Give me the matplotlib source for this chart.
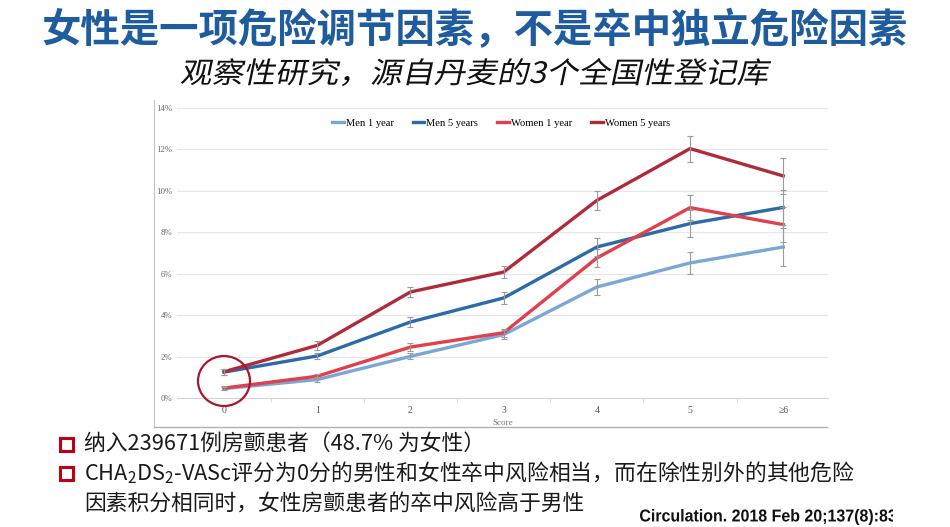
import numpy as np
import matplotlib
matplotlib.use('Agg')
import matplotlib.pyplot as plt
from matplotlib.font_manager import FontProperties
from matplotlib.textpath import TextPath
from matplotlib.patches import PathPatch, Ellipse, Rectangle
from matplotlib.transforms import Affine2D
from matplotlib.lines import Line2D

plt.rcParams['font.family'] = ['Noto Sans CJK SC', 'DejaVu Sans']
plt.rcParams['mathtext.fontset'] = 'custom'
plt.rcParams['mathtext.rm'] = 'Noto Sans CJK SC'

# data (stroke risk, %)
scores = ['0', '1', '2', '3', '4', '5', '≥6']
men_1y = [0.45, 0.89, 2.01, 3.06, 5.36, 6.52, 7.29]
men_5y = [1.25, 2.03, 3.67, 4.83, 7.29, 8.42, 9.20]
women_1y = [0.48, 1.05, 2.46, 3.15, 6.76, 9.19, 8.37]
women_5y = [1.27, 2.54, 5.12, 6.08, 9.54, 12.04, 10.72]
men_1y_err = [0.08, 0.10, 0.15, 0.20, 0.40, 0.55, 0.90]
men_5y_err = [0.15, 0.15, 0.25, 0.30, 0.45, 0.65, 0.85]
women_1y_err = [0.10, 0.13, 0.20, 0.20, 0.43, 0.60, 0.85]
women_5y_err = [0.15, 0.20, 0.25, 0.30, 0.45, 0.63, 0.85]
yticks = [0, 2, 4, 6, 8, 10, 12, 14]

W, H = 950, 527
fig = plt.figure(figsize=(9.5, 5.27), dpi=100)
px = Affine2D().scale(1 / W, 1 / H) + fig.transFigure


def path_text(s, prop, x0, x1, y0, y1, skew=0):
    # draw text as outlines, fitted into the ink box x0..x1 / y0..y1 (pixels from top)
    tp = TextPath((0, 0), s, size=20, prop=prop)
    bb = tp.get_extents()
    tr = Affine2D().translate(-bb.x0, -bb.y0) \
        .scale((x1 - x0) / bb.width, (y1 - y0) / bb.height) \
        .skew_deg(skew, 0).translate(x0, H - y1)
    return tr.transform_path(tp)


# title
fig.text(0.5, 1 - 31 / H, '女性是一项危险调节因素，不是卒中独立危险因素',
         ha='center', va='center', fontsize=28.4, fontweight='bold', color='#1f5c9e')

# italic subtitle (CJK font has no italic, so skew the glyph outlines)
sub = '观察性研究，源自丹麦的3个全国性登记库'
p = path_text(sub, FontProperties(family='Noto Sans CJK SC'), 180, 766, 58, 86, skew=12)
fig.add_artist(PathPatch(p, transform=px, color='#111111', lw=0))

# chart
x = np.arange(len(scores))
ax = fig.add_axes([177 / W, 1 - 398 / H, (828 - 177) / W, (398 - 108) / H])
series = [
    (men_1y, men_1y_err, '#7ba7d7', 'Men 1 year'),
    (men_5y, men_5y_err, '#2d6aa8', 'Men 5 years'),
    (women_1y, women_1y_err, '#e0404c', 'Women 1 year'),
    (women_5y, women_5y_err, '#b12a3a', 'Women 5 years'),
]
for vals, err, col, lab in series:
    ax.plot(x, vals, color=col, lw=2.4, label=lab, zorder=3, solid_joinstyle='round')
    ax.errorbar(x, vals, yerr=err, fmt='none', ecolor='#9a9a9a', elinewidth=0.8,
                capsize=2, capthick=0.8, zorder=4)

ax.set_xlim(-0.505, 6.48)
ax.set_ylim(0, 14)
ax.set_yticks(yticks)
ax.set_yticklabels([f'{v}%' for v in yticks], fontsize=6.3, color='#666666',
                   family='Liberation Serif')
ax.set_xticks(x)
ax.set_xticklabels(scores, fontsize=7, color='#555555', family='Liberation Serif')
ax.set_xticks(np.arange(0.5, 6, 1), minor=True)
ax.tick_params(axis='x', which='major', length=0, pad=6)
ax.tick_params(axis='y', length=0, pad=3.5)
ax.tick_params(axis='x', which='minor', length=3, color='#d5d5d5', direction='out')
ax.grid(axis='y', color='#e6e6e6', lw=0.8)
ax.set_axisbelow(True)
for s in ['top', 'right', 'left']:
    ax.spines[s].set_visible(False)
ax.spines['bottom'].set_color('#d5d5d5')
ax.spines['bottom'].set_linewidth(0.8)

ax.legend(loc='center', bbox_to_anchor=(501 / W, 1 - 123 / H), bbox_transform=fig.transFigure,
          ncol=4, frameon=False, handlelength=1.1, handletextpad=0.2, columnspacing=1.8,
          prop=FontProperties(family='Liberation Serif', size=7.6))

# red circle around score 0
fig.add_artist(Ellipse((224, H - 381), 52, 50, transform=px, fill=False,
                       edgecolor='#a8182a', lw=1.6))

# embedded image frame + cut axis title
fig.add_artist(Line2D([154, 154], [H - 100, H - 427], transform=px, color='#c4c4c4', lw=0.8))
fig.add_artist(Line2D([154, 827], [H - 427, H - 427], transform=px, color='#b0b0b0', lw=1.0))
fig.text(503 / W, 1 - 423 / H, 'Score', ha='center', va='center', fontsize=6.5,
         color='#777777', family='Liberation Serif')

# bullets
for yy in [444, 473]:
    fig.add_artist(Rectangle((60, H - yy - 6.5), 13, 13, transform=px, fill=False,
                             edgecolor='#c00012', lw=2.2))
fig.text(84 / W, 1 - 444 / H, '纳入239671例房颤患者（48.7% 为女性）', ha='left', va='center',
         fontsize=15.7, color='#1a1a1a')
fig.text(84 / W, 1 - 473 / H,
         r'CHA$_{\mathrm{2}}$DS$_{\mathrm{2}}$-VASc评分为0分的男性和女性卒中风险相当，而在除性别外的其他危险',
         ha='left', va='center', fontsize=15.7, color='#1a1a1a')
fig.text(84 / W, 1 - 504 / H, '因素积分相同时，女性房颤患者的卒中风险高于男性', ha='left',
         va='center', fontsize=15.7, color='#1a1a1a')

# citation, condensed bold, cut at the right like the slide
cite = 'Circulation. 2018 Feb 20;137(8):832'
p = path_text(cite, FontProperties(family='Liberation Sans', weight='bold'), 640, 905, 509, 525)
cp = PathPatch(p, transform=px, color='#111111', lw=0)
fig.add_artist(cp)
clip = Rectangle((600, 0), 293, 60, transform=px)
cp.set_clip_path(clip)

fig.savefig('out.png', dpi=100)
